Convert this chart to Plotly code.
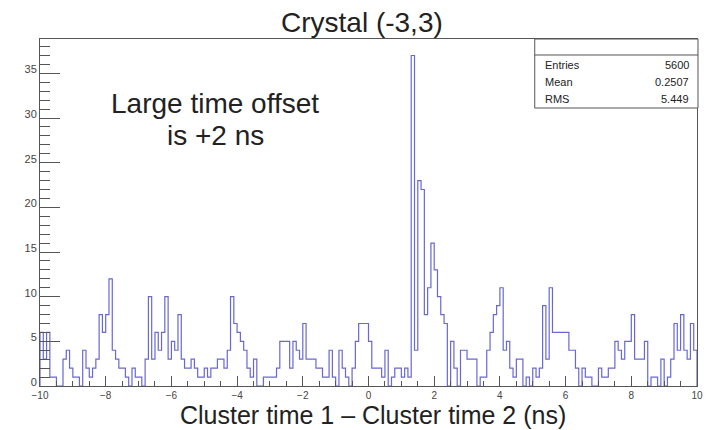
import numpy as np
import plotly.graph_objects as go

# Histogram: 200 bins of 0.1 ns between -10 and 10 ns
x_min, x_max, n_bins = -10.0, 10.0, 200
counts = [
    # -10.0 .. -6.7
    6, 3, 6, 1, 1, 0, 0, 3, 4, 2, 1, 1, 0, 4, 2, 1, 2, 3, 8, 6,
    8, 12, 4, 3, 2, 2, 1, 0, 2, 1, 1, 0, 3, 10,
    # -6.6 .. -3.5
    3, 6, 4, 6, 10, 3, 5, 4, 8, 3, 2, 2, 3, 2, 1, 1, 2, 1, 2, 2,
    3, 3, 2, 4, 10, 7, 6, 5, 4, 2, 1, 3,
    # -3.4 .. 0.0
    0, 0, 1, 1, 1, 1, 2, 5, 5, 5, 2, 5, 4, 3, 7, 3, 3, 3, 2, 2,
    1, 1, 4, 1, 0, 4, 2, 1, 0, 2, 5, 7, 7, 7, 5,
    # 0.1 .. 3.2
    2, 2, 2, 1, 4, 0, 1, 2, 2, 1, 2, 1, 37, 4, 23, 22, 8, 11, 16, 13,
    10, 8, 7, 0, 5, 2, 0, 4, 4, 3, 3, 3,
    # 3.3 .. 6.4
    0, 1, 1, 4, 6, 8, 9, 11, 4, 5, 2, 1, 3, 3, 0, 1, 0, 2, 1, 2,
    9, 3, 11, 6, 6, 6, 6, 6, 4, 4, 2, 0,
    # 6.5 .. 9.9
    2, 1, 1, 0, 0, 2, 1, 1, 2, 2, 5, 4, 3, 5, 5, 8, 3, 3, 3, 5,
    0, 1, 1, 0, 3, 0, 1, 3, 7, 4, 8, 4, 3, 7, 4,
]

stat_labels = ["Entries", "Mean", "RMS"]
stat_values = ["5600", "0.2507", "5.449"]

title_text = "Crystal (-3,3)"
x_title = "Cluster time 1 \u2013 Cluster time 2 (ns)"
note_lines = ["Large time offset", "is +2 ns"]

x_ticks = list(range(-10, 11, 2))
y_ticks = list(range(0, 36, 5))

edges = np.linspace(x_min, x_max, n_bins + 1)
step_x = np.concatenate([[edges[0]], edges[:-1], [edges[-1], edges[-1]]])
step_y = np.concatenate([[0], counts, [counts[-1], 0]])

y_top = max(counts) * 1.05

FONT = "Liberation Sans, Arial, Helvetica, sans-serif"
AXIS_COL = "#555555"
LINE_COL = "#6868d4"

fig = go.Figure()
fig.add_trace(go.Scatter(
    x=step_x, y=step_y, mode="lines", line_shape="hv",
    line=dict(color=LINE_COL, width=1.2), hoverinfo="skip", showlegend=False,
))

fig.update_layout(
    width=715, height=430,
    margin=dict(l=40, r=15, t=39, b=44),
    paper_bgcolor="white", plot_bgcolor="white",
    font=dict(family=FONT, color="#222222"),
    showlegend=False,
)

fig.update_xaxes(
    range=[x_min, x_max],
    tickmode="array", tickvals=x_ticks,
    ticktext=[("\u2212" + str(abs(v))) if v < 0 else str(v) for v in x_ticks],
    ticks="inside", ticklen=10, tickcolor=AXIS_COL, tickwidth=1,
    minor=dict(dtick=0.5, tick0=0, ticks="inside", ticklen=5, tickcolor=AXIS_COL),
    showline=True, linecolor=AXIS_COL, linewidth=1, mirror=True,
    showgrid=False, zeroline=False,
    tickfont=dict(size=10, color="#444444", family=FONT),
)
fig.update_yaxes(
    range=[0, y_top],
    tickmode="array", tickvals=y_ticks,
    ticks="inside", ticklen=20, tickcolor=AXIS_COL, tickwidth=1,
    minor=dict(dtick=1, tick0=0, ticks="inside", ticklen=10, tickcolor=AXIS_COL),
    showline=True, linecolor=AXIS_COL, linewidth=1, mirror=True,
    showgrid=False, zeroline=False,
    ticklabelshift=-4,
    tickfont=dict(size=11, color="#444444", family=FONT),
)

# plot-area pixel geometry used to place boxes and labels
PX_L, PX_R, PX_T, PX_B = 40, 700, 39, 386


def px_x(px):
    return (px - PX_L) / (PX_R - PX_L)


def px_y(py):
    return (PX_B - py) / (PX_B - PX_T)


# statistics box
box_l, box_r, box_t, box_b, box_div = 537, 701, 39, 108, 55
fig.add_shape(type="rect", xref="paper", yref="paper",
              x0=px_x(box_l), x1=px_x(box_r), y0=px_y(box_b), y1=px_y(box_t),
              line=dict(color="#555555", width=1), fillcolor="white", layer="above")
fig.add_shape(type="line", xref="paper", yref="paper",
              x0=px_x(box_l), x1=px_x(box_r), y0=px_y(box_div), y1=px_y(box_div),
              line=dict(color="#555555", width=1), layer="above")
for i, (lab, val) in enumerate(zip(stat_labels, stat_values)):
    yy = px_y(65 + i * 17)
    fig.add_annotation(text=lab, xref="paper", yref="paper", x=px_x(545), y=yy,
                       xanchor="left", yanchor="middle", showarrow=False,
                       font=dict(size=11, color="#222222", family=FONT))
    fig.add_annotation(text=val, xref="paper", yref="paper", x=px_x(694), y=yy,
                       xanchor="right", yanchor="middle", showarrow=False,
                       font=dict(size=11, color="#222222", family=FONT))

# title
fig.add_annotation(text=title_text, xref="paper", yref="paper",
                   x=px_x(363), y=px_y(22), xanchor="center", yanchor="middle",
                   showarrow=False, font=dict(size=28, color="#222222", family=FONT))

# x-axis title
fig.add_annotation(text=x_title, xref="paper", yref="paper",
                   x=px_x(375), y=px_y(415), xanchor="center", yanchor="middle",
                   showarrow=False, font=dict(size=25, color="#222222", family=FONT))

# text note inside the frame
for line, py in zip(note_lines, [103, 135]):
    fig.add_annotation(text=line, xref="paper", yref="paper",
                       x=px_x(216), y=px_y(py), xanchor="center", yanchor="middle",
                       showarrow=False, font=dict(size=28, color="#222222", family=FONT))

fig.write_html("out.html")
